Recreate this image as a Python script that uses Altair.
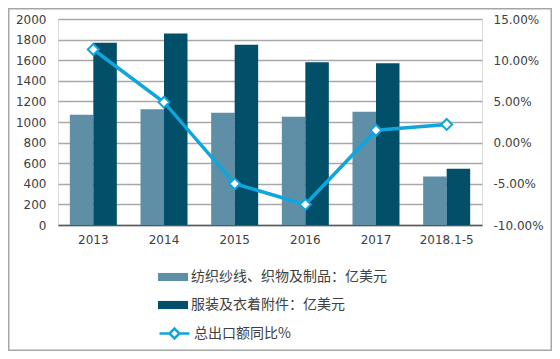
import altair as alt
import pandas as pd

years = ["2013", "2014", "2015", "2016", "2017", "2018.1-5"]
textile = [1070, 1125, 1090, 1050, 1100, 470]
apparel = [1770, 1860, 1750, 1580, 1570, 545]
growth = [11.3, 4.9, -5.0, -7.5, 1.5, 2.2]

s1 = "纺织纱线、织物及制品：亿美元"
s2 = "服装及衣着附件：亿美元"
s3 = "总出口额同比%"

bar_rows = []
for y, a, b in zip(years, textile, apparel):
    bar_rows.append({"year": y, "series": s1, "value": a})
    bar_rows.append({"year": y, "series": s2, "value": b})
bars_df = pd.DataFrame(bar_rows)
line_df = pd.DataFrame({"year": years, "growth": growth, "name": [s3] * len(years)})

W, H = 424, 206
PL, PT, PR, PB = 50, 11, 70, 126
NUM_FONT = "DejaVu Sans"
CJK = "Noto Sans CJK SC"
TXT = "#404040"

xenc = alt.X("year:N", sort=years,
             scale=alt.Scale(paddingInner=0.335, paddingOuter=0.1675),
             axis=alt.Axis(title=None, labelAngle=0, ticks=False, labelPadding=9,
                           domainColor="#595959", domainWidth=1.5, labelFont=NUM_FONT,
                           labelFontSize=12, labelColor=TXT, grid=False))

bars = alt.Chart(bars_df).mark_bar(stroke=None).encode(
    x=xenc,
    xOffset=alt.XOffset("series:N", sort=[s1, s2], scale=alt.Scale(paddingInner=0, paddingOuter=0)),
    y=alt.Y("value:Q", scale=alt.Scale(domain=[0, 2000], nice=False),
            axis=alt.Axis(title=None, values=list(range(0, 2001, 200)), format="d", grid=True,
                          gridColor="#a8a8a8", gridWidth=1.5, domain=False, ticks=False,
                          labelPadding=12, labelFont=NUM_FONT, labelFontSize=12,
                          labelColor=TXT, orient="left")),
    color=alt.Color("series:N",
                    scale=alt.Scale(domain=[s1, s2], range=["#5e8fa7", "#024f6a"]),
                    legend=alt.Legend(title=None, orient="none", legendX=100, legendY=243,
                                      direction="vertical",
                                      symbolType="M-1,-0.27H1V0.27H-1Z", symbolSize=900,
                                      symbolStrokeWidth=0, labelFont=CJK, labelFontSize=14,
                                      labelColor=TXT, rowPadding=6, labelLimit=400,
                                      labelOffset=3)),
)

right_axis = alt.Axis(title=None, orient="right", values=[-10, -5, 0, 5, 10, 15],
                      grid=False, domain=False, ticks=False, labelPadding=11,
                      labelFont=NUM_FONT, labelFontSize=12, labelColor=TXT,
                      labelExpr="(datum.value < 0 ? '-' : '') + format(abs(datum.value), '.2f') + '%'")
yscale = alt.Scale(domain=[-10, 15], nice=False)

line = alt.Chart(line_df).mark_line(strokeWidth=3.5).encode(
    x=alt.X("year:N", sort=years),
    y=alt.Y("growth:Q", scale=yscale, axis=right_axis),
    color=alt.Color("name:N", scale=alt.Scale(domain=[s3], range=["#11a5de"]),
                    legend=alt.Legend(title=None, orient="none", legendX=100, legendY=298,
                                      direction="vertical",
                                      symbolType="M-1,0H-0.33M0.33,0H1M-0.33,0L0,-0.33L0.33,0L0,0.33Z",
                                      symbolSize=900, symbolStrokeWidth=2.5,
                                      symbolFillColor="white",
                                      labelFont=CJK, labelFontSize=14, labelColor=TXT,
                                      labelLimit=400, labelOffset=3)),
)

points = alt.Chart(line_df).mark_point(shape="diamond", filled=True, fill="white",
                                        stroke="#11a5de", strokeWidth=2, size=120,
                                        opacity=1).encode(
    x=alt.X("year:N", sort=years),
    y=alt.Y("growth:Q", scale=yscale, axis=right_axis),
)

frame = alt.Chart(pd.DataFrame({"k": [0]})).mark_rect(filled=False, stroke="#a6a6a6",
                                                       strokeWidth=1.5).encode(
    x=alt.value(-PL + 0.75), x2=alt.value(W + PR - 0.75),
    y=alt.value(-PT + 0.75), y2=alt.value(H + PB - 0.75),
)

right = alt.layer(line, points)

chart = alt.layer(bars, right, frame).resolve_scale(
    y="independent", color="independent"
).resolve_legend(color="independent").properties(
    width=W, height=H,
    padding={"left": PL, "top": PT, "right": PR, "bottom": PB},
    autosize=alt.AutoSizeParams(type="none"),
).configure_view(stroke=None).configure(background="white")

chart.save("out.html", embed_options={"renderer": "svg", "actions": False})
